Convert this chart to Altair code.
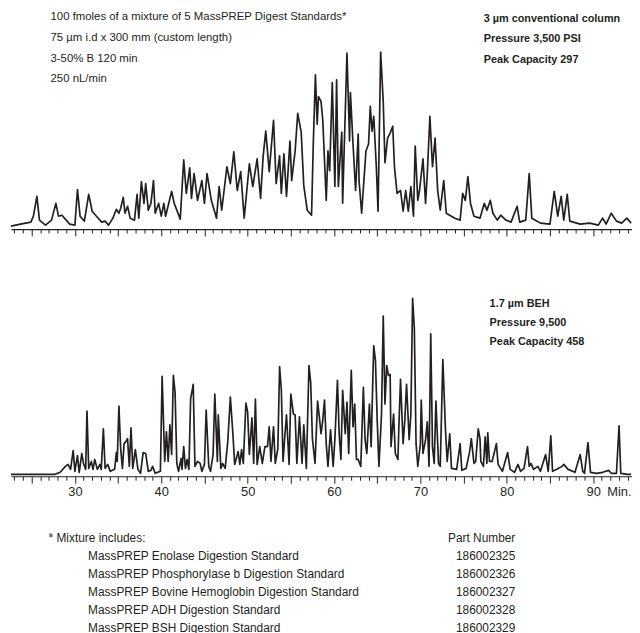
import altair as alt
import pandas as pd

# ---------------- data (time in min, signal in arbitrary units) -------------
top_time = [22.6, 23.7, 24.9, 25.2, 25.6, 25.9, 26.6, 27.3, 27.8, 28.1, 28.5, 29.4, 30.0, 30.3, 30.6,
            31.1, 31.6, 32.0, 32.5, 33.1, 33.5, 33.9, 34.4, 34.8, 35.1, 35.3, 35.6, 35.8, 36.1, 36.4,
            36.9, 37.2, 37.4, 37.7, 38.0, 38.2, 38.5, 38.8, 39.1, 39.3, 39.7, 40.0, 40.3, 40.5, 41.2,
            41.5, 42.2, 42.6, 42.9, 43.3, 43.5, 43.8, 44.2, 44.7, 45.0, 45.3, 45.8, 46.4, 46.7, 47.0,
            47.6, 48.0, 48.4, 48.8, 49.2, 49.6, 50.2, 50.6, 51.1, 51.5, 51.8, 52.1, 52.5, 53.0, 53.3,
            53.7, 53.9, 54.2, 54.5, 54.9, 55.1, 55.5, 55.8, 56.2, 56.5, 56.9, 57.4, 57.6, 57.85, 58.05,
            58.2, 58.5, 58.7, 59.1, 59.3, 59.5, 59.8, 60.1, 60.3, 60.5, 60.9, 61.0, 61.5, 61.8, 61.9,
            62.2, 62.5, 62.8, 62.9, 63.2, 63.7, 64.0, 64.2, 64.4, 64.6, 64.9, 65.1, 65.4, 65.7, 65.9,
            66.2, 66.5, 66.8, 67.0, 67.3, 67.7, 68.0, 68.3, 68.6, 68.9, 69.2, 69.4, 69.7, 69.9, 70.3,
            70.6, 70.8, 71.1, 71.4, 71.7, 72.0, 72.3, 72.7, 73.0, 74.0, 74.6, 74.9, 75.2, 75.5, 75.8,
            76.2, 76.9, 77.4, 77.7, 78.1, 78.4, 78.9, 79.3, 79.9, 80.5, 81.2, 81.5, 82.2, 82.6, 82.9,
            83.9, 85.0, 85.5, 85.9, 86.3, 86.6, 87.0, 87.3, 88.5, 89.6, 90.6, 91.1, 91.5, 92.1, 92.7,
            93.3, 93.9, 94.4]
top_signal = [3, 5, 7, 13, 33, 9, 4, 9, 26, 13, 14, 5, 4, 40, 13,
              8, 35, 18, 13, 7, 8, 4, 11, 20, 16, 21, 32, 16, 23, 11,
              9, 35, 11, 48, 26, 46, 19, 26, 49, 16, 26, 13, 26, 13, 38,
              26, 10, 70, 36, 62, 31, 56, 29, 49, 26, 56, 29, 11, 43, 19,
              63, 46, 78, 39, 58, 11, 66, 43, 71, 31, 74, 99, 58, 110, 46,
              74, 36, 76, 33, 89, 49, 79, 117, 98, 44, 19, 14, 86, 156, 106,
              134, 129, 110, 29, 79, 59, 148, 43, 151, 43, 98, 26, 178, 89, 138,
              86, 39, 96, 49, 16, 79, 86, 124, 99, 114, 63, 18, 179, 129, 67,
              92, 97, 104, 63, 36, 39, 18, 39, 18, 43, 13, 84, 29, 39, 71,
              26, 56, 114, 63, 92, 39, 19, 49, 16, 11, 9, 36, 29, 53, 26,
              13, 11, 26, 19, 29, 16, 9, 14, 9, 7, 23, 7, 9, 56, 11,
              6, 5, 38, 13, 33, 9, 35, 8, 5, 6, 4, 11, 5, 16, 8,
              6, 11, 6]

bottom_time = [22.6, 27.7, 28.3, 28.9, 29.2, 29.5, 29.8, 30.0, 30.3, 30.5, 30.8, 31.0, 31.25, 31.4, 31.6,
               31.9, 32.1, 32.3, 32.6, 32.9, 33.05, 33.3, 33.5, 33.8, 34.1, 34.6, 34.8, 34.9, 35.1, 35.3,
               35.5, 35.7, 35.9, 36.1, 36.3, 36.5, 36.7, 37.0, 37.3, 37.6, 37.9, 38.2, 38.5, 38.8, 39.0,
               39.3, 39.9, 40.1, 40.4, 40.6, 40.8, 41.0, 41.2, 41.4, 41.6, 41.8, 42.0, 42.3, 42.4, 42.6,
               42.8, 43.0, 43.2, 43.4, 43.7, 43.9, 44.2, 44.5, 44.7, 45.0, 45.2, 45.5, 45.7, 46.0, 46.2,
               46.5, 46.6, 46.9, 47.1, 47.4, 47.7, 48.0, 48.3, 48.5, 48.9, 49.1, 49.3, 49.5, 49.8, 50.0,
               50.2, 50.5, 50.7, 50.9, 51.1, 51.4, 51.7, 52.0, 52.3, 52.5, 52.7, 53.0, 53.2, 53.5, 53.7,
               53.9, 54.1, 54.3, 54.5, 54.8, 55.0, 55.3, 55.5, 55.7, 56.0, 56.3, 56.5, 56.8, 57.1, 57.3,
               57.5, 57.8, 58.1, 58.3, 58.5, 58.7, 58.9, 59.1, 59.3, 59.6, 59.9, 60.1, 60.4, 60.6, 60.8,
               61.0, 61.3, 61.5, 61.7, 62.0, 62.2, 62.4, 62.6, 62.8, 63.1, 63.4, 63.6, 63.8, 64.1, 64.3,
               64.5, 64.6, 64.8, 65.0, 65.2, 65.5, 65.7, 65.9, 66.1, 66.3, 66.5, 66.6, 66.9, 67.1, 67.4,
               67.5, 67.7, 68.0, 68.2, 68.4, 68.7, 68.9, 69.1, 69.3, 69.5, 69.7, 70.0, 70.1, 70.3, 70.6,
               70.8, 71.0, 71.2, 71.4, 71.6, 71.8, 72.1, 72.3, 72.6, 72.9, 73.1, 73.4, 73.6, 74.2, 74.6,
               74.8, 75.3, 75.7, 75.9, 76.2, 76.4, 76.7, 76.9, 77.0, 77.3, 77.5, 77.7, 77.8, 78.0, 78.3,
               78.5, 78.8, 79.0, 79.5, 80.1, 80.4, 80.9, 81.3, 81.6, 82.0, 82.4, 82.6, 82.8, 83.1, 83.6,
               83.9, 84.5, 84.8, 85.1, 85.3, 85.8, 86.4, 86.6, 87.1, 87.9, 88.5, 88.8, 89.0, 89.4, 89.7,
               90.4, 91.1, 91.8, 92.1, 92.7, 93.0, 93.2, 94.0, 94.4]
bottom_signal = [2, 2, 4, 10, 12, 7, 26, 5, 21, 4, 23, 13, 7, 66, 8,
                 15, 7, 17, 7, 12, 7, 48, 8, 12, 5, 7, 24, 15, 71, 28,
                 8, 33, 35, 38, 10, 49, 8, 27, 7, 3, 24, 23, 5, 6, 10,
                 3, 5, 101, 15, 45, 15, 52, 22, 102, 85, 13, 5, 18, 7, 30,
                 8, 17, 7, 78, 93, 10, 15, 13, 5, 12, 67, 10, 5, 22, 83,
                 15, 62, 8, 13, 8, 35, 80, 42, 12, 25, 12, 27, 13, 74, 65,
                 22, 59, 13, 78, 12, 30, 13, 30, 30, 50, 15, 50, 13, 28, 111,
                 88, 15, 40, 62, 12, 83, 63, 62, 13, 60, 13, 52, 8, 112, 95,
                 38, 13, 76, 60, 43, 57, 77, 33, 10, 47, 10, 37, 97, 43, 17,
                 87, 43, 75, 23, 107, 50, 73, 17, 17, 10, 90, 37, 23, 73, 30,
                 100, 132, 117, 57, 10, 63, 162, 73, 112, 102, 103, 30, 63, 23, 17,
                 47, 98, 33, 57, 93, 37, 63, 180, 150, 33, 10, 33, 77, 23, 37,
                 55, 10, 144, 30, 13, 76, 13, 10, 118, 48, 15, 43, 8, 7, 33,
                 6, 8, 25, 38, 13, 15, 48, 38, 15, 10, 40, 13, 44, 15, 15,
                 22, 33, 12, 5, 24, 7, 4, 12, 5, 8, 30, 10, 13, 7, 10,
                 5, 22, 5, 41, 5, 7, 10, 12, 7, 4, 22, 5, 3, 34, 4,
                 3, 4, 6, 3, 3, 51, 3, 2, 2]

assert len(top_time) == len(top_signal)
assert len(bottom_time) == len(bottom_signal)

time_domain = [22.6, 94.5]
tick_minutes = list(range(23, 95))
label_minutes = [30, 40, 50, 60, 70, 80, 90]

top_left_lines = ["100 fmoles of a mixture of 5 MassPREP Digest Standards*",
                  "75 µm i.d x 300 mm (custom length)",
                  "3-50% B 120 min",
                  "250 nL/min"]
top_right_lines = ["3 µm conventional column", "Pressure 3,500 PSI", "Peak Capacity 297"]
bottom_right_lines = ["1.7 µm BEH", "Pressure 9,500", "Peak Capacity 458"]
footnote_title = "* Mixture includes:"
footnote_items = ["MassPREP Enolase Digestion Standard",
                  "MassPREP Phosphorylase b Digestion Standard",
                  "MassPREP Bovine Hemoglobin Digestion Standard",
                  "MassPREP ADH Digestion Standard",
                  "MassPREP BSH Digestion Standard"]
footnote_parts = ["Part Number", "186002325", "186002326", "186002327", "186002328", "186002329"]

# ---------------- styling ----------------
INK = "#231f20"
FONT = "Liberation Sans"
PLOT_W = 628
PLOT_H = 216
FOOT_LH = 18.2

top_df = pd.DataFrame({"time": top_time, "signal": top_signal})
bottom_df = pd.DataFrame({"time": bottom_time, "signal": bottom_signal})
one_row = pd.DataFrame({"k": [0]})

label_test = "indexof([" + ",".join(str(v) for v in label_minutes) + "], datum.value) >= 0"


def x_axis(show_labels):
    return alt.Axis(
        values=tick_minutes,
        tickSize={"condition": {"test": "datum.value % 5 === 0", "value": 7}, "value": 4},
        tickColor=INK, tickWidth=1,
        domainColor=INK, domainWidth=1.2,
        grid=False, title=None,
        labels=show_labels,
        labelExpr=f"{label_test} ? datum.label : ''",
        labelOverlap=False, labelFlush=False,
        labelFont=FONT, labelFontSize=13, labelColor=INK, labelPadding=2,
        format="d",
    )


def trace(df, show_labels):
    return alt.Chart(df).mark_line(color=INK, strokeWidth=1.7, strokeJoin="round").encode(
        x=alt.X("time:Q", scale=alt.Scale(domain=time_domain, nice=False, zero=False),
                axis=x_axis(show_labels)),
        y=alt.Y("signal:Q", scale=alt.Scale(domain=[0, PLOT_H]), axis=None),
    )


def text_block(lines, x, y, size=12, weight="normal", line_height=21, align="left"):
    # y is the centre of the first line; further lines go downwards
    return alt.Chart(one_row).mark_text(
        align=align, baseline="middle", font=FONT, fontSize=size, fontWeight=weight,
        lineHeight=line_height, color=INK,
    ).encode(x=alt.value(x), y=alt.value(y), text=alt.value(lines))


top_panel = alt.layer(
    trace(top_df, False),
    text_block(top_left_lines, 40, 2, size=11.5, line_height=20.8),
    text_block(top_right_lines, 478, 4, size=11, weight="bold", line_height=20.3),
).properties(width=PLOT_W, height=PLOT_H)

bottom_panel = alt.layer(
    trace(bottom_df, True),
    text_block(bottom_right_lines, 484, 41.5, size=11, weight="bold", line_height=19.5),
    alt.Chart(one_row).mark_text(align="left", baseline="middle", font=FONT, fontSize=13, color=INK)
    .encode(x=alt.value(603), y=alt.value(232), text=alt.value("Min.")),
).properties(width=PLOT_W, height=PLOT_H)

foot_panel = alt.layer(
    text_block([footnote_title], 38, 13, line_height=FOOT_LH),
    text_block(footnote_items, 78, 13 + FOOT_LH, line_height=FOOT_LH),
    text_block(footnote_parts, 510, 13, line_height=FOOT_LH, align="right"),
).properties(width=PLOT_W, height=90)

chart = alt.vconcat(top_panel, bottom_panel, foot_panel, spacing=26).properties(
    padding={"left": 2, "top": 0, "right": 0, "bottom": 0}
).configure(font=FONT).configure_view(strokeWidth=0, stroke=None)

chart.save("out.html", embed_options={"renderer": "svg", "actions": False})
